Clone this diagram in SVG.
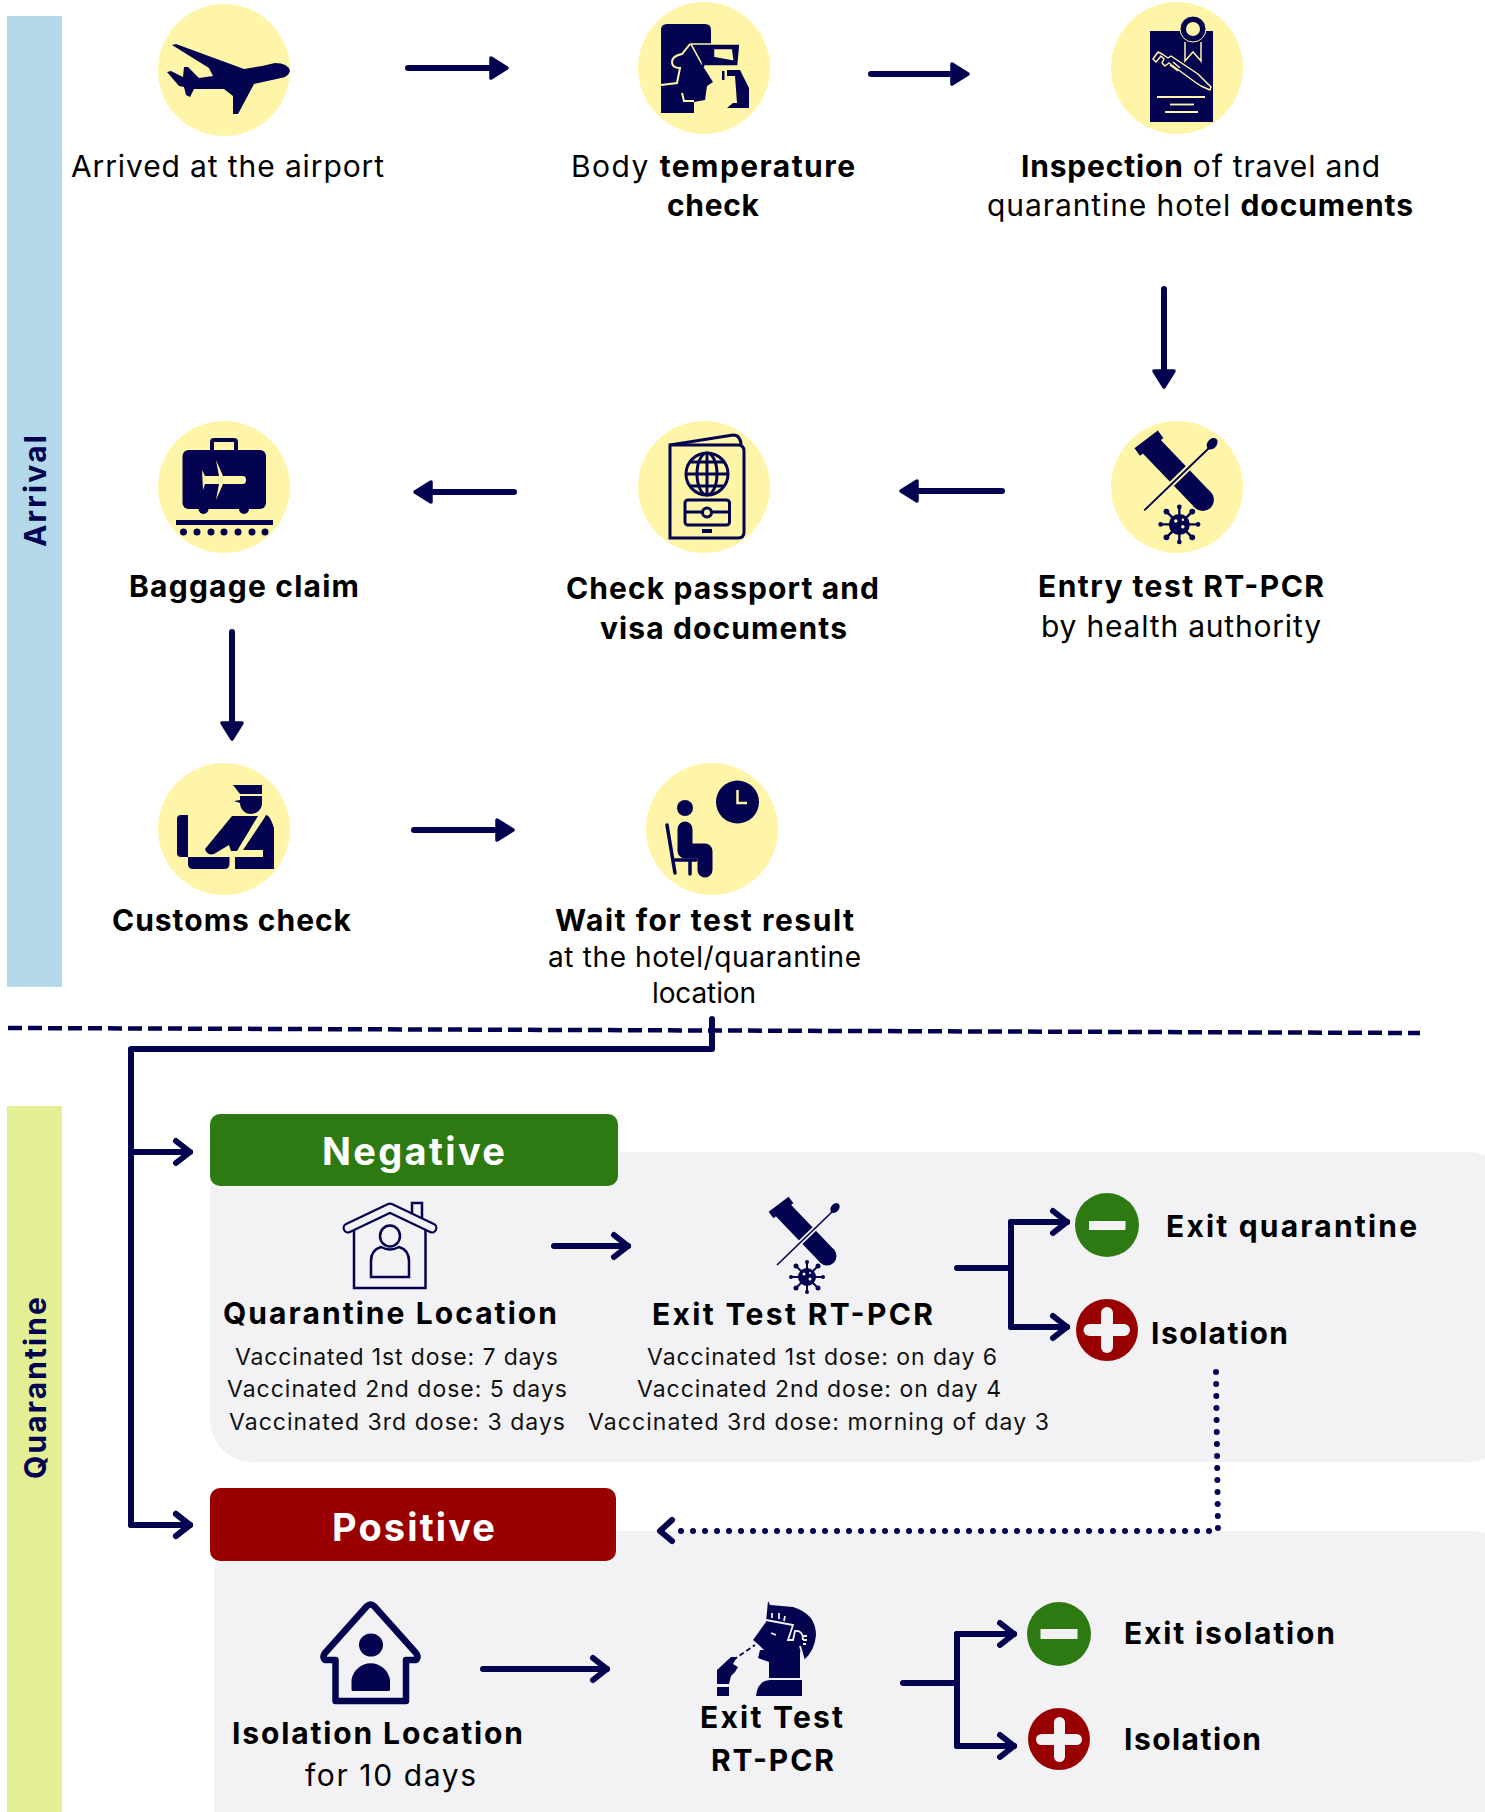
<svg xmlns="http://www.w3.org/2000/svg" xmlns:xlink="http://www.w3.org/1999/xlink" width="1485" height="1812" viewBox="0 0 1485 1812">
<style>
text{font-family:"Inter","Liberation Sans",sans-serif;fill:#000}
.t{font-size:30px}
.s{font-size:28px}
.h{font-size:30px;font-weight:700}
.v{font-size:23px;fill:#111}
.b{font-weight:700}
.lane{font-size:30px;font-weight:700;fill:#03034f;text-anchor:middle}
.hd{font-size:38px;font-weight:700;fill:#fff}
.c{fill:#fff5a8}
.n{fill:#03034f}
.ln{fill:none;stroke:#03034f;stroke-width:6;stroke-linecap:round;stroke-linejoin:round}
.panel{fill:#f2f2f5}
</style>
<defs>
<marker id="solid" markerUnits="userSpaceOnUse" viewBox="-14 -15 26 30" refX="0" refY="0" markerWidth="26" markerHeight="30" orient="auto"><path d="M-8,-10 L8,0 L-8,10 Z" fill="#03034f" stroke="#03034f" stroke-width="3.5" stroke-linejoin="round"/></marker>
<marker id="open" markerUnits="userSpaceOnUse" viewBox="-18 -15 22 30" refX="0" refY="0" markerWidth="22" markerHeight="30" orient="auto"><path d="M-14,-11 L0,0 L-14,11" fill="none" stroke="#03034f" stroke-width="6" stroke-linecap="round" stroke-linejoin="round"/></marker>
<g id="testIcon">
<path class="n" d="M775,1205 L799,1221 L822,1246 A12,12 0 0 0 838,1254 L838,1258 A11,11 0 0 1 818,1265 L787,1224 Z" style="display:none"/>
<line x1="781" y1="1208" x2="827" y2="1256" stroke="#03034f" stroke-width="19"/>
<circle cx="827" cy="1256" r="9.500" class="n"/>
<line x1="771" y1="1215" x2="791" y2="1200" stroke="#03034f" stroke-width="8"/>
<line x1="777" y1="1265" x2="833" y2="1211" stroke="currentColor" stroke-width="5"/>
<line x1="777" y1="1265" x2="833" y2="1211" stroke="#03034f" stroke-width="1.600"/>
<ellipse cx="835" cy="1208" rx="4" ry="5.500" class="n" transform="rotate(40 835 1208)"/>
<g stroke="#03034f" stroke-width="2"><line x1="791" y1="1277" x2="823" y2="1277"/><line x1="807" y1="1261" x2="807" y2="1293"/><line x1="796" y1="1266" x2="818" y2="1288"/><line x1="818" y1="1266" x2="796" y2="1288"/></g>
<circle cx="807" cy="1277" r="9" class="n"/>
<g class="n"><circle cx="791" cy="1277" r="2"/><circle cx="823" cy="1277" r="2"/><circle cx="807" cy="1262" r="2"/><circle cx="807" cy="1292" r="2"/><circle cx="796" cy="1266" r="2.500"/><circle cx="818" cy="1266" r="2.500"/><circle cx="796" cy="1288" r="2.500"/><circle cx="818" cy="1288" r="2.500"/></g>
<g fill="currentColor"><circle cx="804" cy="1274" r="1.500"/><circle cx="810" cy="1279" r="1.500"/><circle cx="810" cy="1273" r="1"/></g>
</g>
</defs>

<g id="lanes">
<rect x="7" y="16" width="55" height="971" fill="#b2d8ea"/>
<rect x="7" y="1106" width="55" height="706" fill="#e3ee95"/>
<text class="lane" transform="translate(46 491) rotate(-90)" textLength="112">Arrival</text>
<text class="lane" transform="translate(46 1388) rotate(-90)" textLength="182">Quarantine</text>
</g>

<g id="panels">
<rect class="panel" x="210" y="1152" width="1300" height="310" rx="42"/>
<rect class="panel" x="214" y="1531" width="1300" height="340" rx="42"/>
</g>

<g id="connectors">
<line class="ln" x1="408" y1="68" x2="499" y2="68" marker-end="url(#solid)"/>
<line class="ln" x1="871" y1="74" x2="960" y2="74" marker-end="url(#solid)"/>
<line class="ln" x1="1164" y1="289" x2="1164" y2="379" marker-end="url(#solid)" stroke-width="5"/>
<line class="ln" x1="1002" y1="491" x2="909" y2="491" marker-end="url(#solid)"/>
<line class="ln" x1="514" y1="492" x2="423" y2="492" marker-end="url(#solid)"/>
<line class="ln" x1="232" y1="632" x2="232" y2="731" marker-end="url(#solid)"/>
<line class="ln" x1="414" y1="830" x2="505" y2="830" marker-end="url(#solid)"/>
<line x1="8" y1="1028" x2="1420" y2="1033" stroke="#03034f" stroke-width="4.500" stroke-dasharray="14 6"/>
<path class="ln" d="M712,1019 V1049 H131 V1525 H190" marker-end="url(#open)"/>
<line class="ln" x1="131" y1="1152" x2="190" y2="1152" marker-end="url(#open)"/>
<line class="ln" x1="131" y1="1525" x2="190" y2="1525" marker-end="url(#open)"/>
<line class="ln" x1="554" y1="1246" x2="628" y2="1246" marker-end="url(#open)"/>
<path class="ln" d="M957,1268 H1011"/>
<path class="ln" d="M1067,1222 H1011 V1327 H1067"/>
<line class="ln" x1="1011" y1="1222" x2="1067" y2="1222" marker-end="url(#open)"/>
<line class="ln" x1="1011" y1="1327" x2="1067" y2="1327" marker-end="url(#open)"/>
<path d="M1216,1372 L1218,1531 L672,1531" fill="none" stroke="#03034f" stroke-width="6" stroke-linecap="round" stroke-dasharray="0 12"/>
<path class="ln" d="M672,1520 L660,1531 L672,1541"/>
<line class="ln" x1="483" y1="1669" x2="607" y2="1669" marker-end="url(#open)"/>
<path class="ln" d="M903,1683 H957"/>
<path class="ln" d="M1014,1634 H957 V1746 H1014" stroke-width="5"/>
<line class="ln" x1="957" y1="1634" x2="1014" y2="1634" marker-end="url(#open)"/>
<line class="ln" x1="957" y1="1746" x2="1014" y2="1746" marker-end="url(#open)"/>
</g>

<g id="n-arrived">
<circle class="c" cx="224" cy="70" r="66"/>
<path class="n" d="M172,45 L176,44 L244,69 L262,66 L275,63 Q288,63 290,71 Q288,77 281,78 L254,84 L238,114 L233,114 L233,96 L224,89 L194,89 L190,97 L186,95 L184,87 L179,86 L167,72 L171,71 L183,77 L184,67 L188,67 L199,78 L213,76 L209,68 Z"/>
<text class="t" x="71" y="177" textLength="313">Arrived at the airport</text>
</g>

<g id="n-temperature">
<circle class="c" cx="704" cy="68" r="66"/>
<path class="n" d="M661,30 Q661,24 667,24 H705 Q711,24 711,30 V44 H690 L704,68 L713,82 L707,86 L705,100 L694,102 V113 H661 Z"/>
<path d="M690,44 L682,54 Q672,56 672,62 Q672,68 680,68 L677,83 L661,85 M682,93 L684,101 L694,101" fill="none" stroke="#fff5a8" stroke-width="2"/>
<path d="M691,44 H740 L738,66 L703,66 Z" class="n" stroke="#fff5a8" stroke-width="1.500"/>
<path d="M703,46 V67 M713,48 H733 L735,62 L713,58 Z" fill="#fff5a8" stroke="#03034f" stroke-width="2.500"/>
<path class="n" d="M727,70 H740 L749,88 V108 H727 L733,103 L737,103 L735,76 H727 Z"/>
<rect class="n" x="722" y="71" width="2.500" height="9"/>
<text class="t" x="571" y="177" textLength="284">Body <tspan class="b">temperature</tspan></text>
<text class="t b" x="667" y="216" textLength="92">check</text>
</g>

<g id="n-inspection">
<circle class="c" cx="1177" cy="68" r="66"/>
<rect class="n" x="1150" y="31" width="63" height="91"/>
<path d="M1185,42 V61 L1193,52 L1201,61 V42" fill="#03034f" stroke="#fff5a8" stroke-width="1.500"/>
<circle cx="1193" cy="29" r="13" fill="#03034f" stroke="#fff5a8" stroke-width="1"/>
<circle cx="1193" cy="29" r="7" fill="#fff5a8"/>
<g fill="none" stroke="#fff5a8" stroke-width="1.500" stroke-linejoin="round">
<path d="M1158,52 L1153,59 L1156,62 L1161,56 L1164,59 L1162,63 L1165,66 L1169,63 L1195,82 L1201,86 L1210,90 L1211,87 L1204,80 L1198,74 L1171,56 L1168,58 L1162,54 Z"/>
<path d="M1170,65 L1178,71 M1173,62 L1180,68"/>
</g>
<g stroke="#fff5a8" stroke-width="1.800"><line x1="1157" y1="97" x2="1205" y2="97"/><line x1="1170" y1="104.500" x2="1194" y2="104.500"/><line x1="1165" y1="112" x2="1198" y2="112"/></g>
<text class="t" x="1021" y="177" textLength="359"><tspan class="b">Inspection</tspan> of travel and</text>
<text class="t" x="987" y="216" textLength="426">quarantine hotel <tspan class="b">documents</tspan></text>
</g>

<g id="n-entry">
<circle class="c" cx="1177" cy="487" r="66"/>
<use href="#testIcon" xlink:href="#testIcon" color="#fff5a8" transform="translate(1177 487) scale(1.170) translate(-805 -1245)"/>
<text class="t b" x="1038" y="597" textLength="286">Entry test RT-PCR</text>
<text class="t" x="1041" y="637" textLength="280">by health authority</text>
</g>

<g id="n-passport">
<circle class="c" cx="704" cy="487" r="66"/>
<g fill="none" stroke="#03034f" stroke-width="3">
<path d="M670,445 H738 Q744,445 744,451 V532 Q744,538 738,538 H670 Z"/>
<path d="M670,445 L733,435 Q741,435 741,446"/>
<circle cx="707" cy="474" r="21"/>
<ellipse cx="707" cy="474" rx="10" ry="21"/>
<path d="M707,453 V495 M686,474 H728 M690,462 H724 M690,486 H724"/>
<rect x="685" y="500" width="44.500" height="25" rx="3"/>
<path d="M685,512 H702 M712,512 H729"/>
<circle cx="707" cy="512.500" r="4.500"/>
</g>
<rect class="n" x="702" y="529" width="10" height="4"/>
<text class="t b" x="566" y="599" textLength="313">Check passport and</text>
<text class="t b" x="600" y="639" textLength="247">visa documents</text>
</g>

<g id="n-baggage">
<circle class="c" cx="224" cy="487" r="66"/>
<rect class="n" x="182.500" y="450" width="83.500" height="59" rx="6"/>
<path d="M212,450 V442 Q212,440 214,440 H234 Q236,440 236,442 V450" fill="none" stroke="#03034f" stroke-width="4"/>
<circle class="n" cx="203.500" cy="509" r="5"/><circle class="n" cx="244" cy="509" r="5"/>
<rect class="n" x="176" y="520" width="97" height="5"/>
<g class="n"><circle cx="183.500" cy="532" r="3.500"/><circle cx="197" cy="532" r="3.500"/><circle cx="211" cy="532" r="3.500"/><circle cx="224" cy="532" r="3.500"/><circle cx="238" cy="532" r="3.500"/><circle cx="252" cy="532" r="3.500"/><circle cx="265" cy="532" r="3.500"/></g>
<path fill="#fff5a8" d="M216,460 L223,476 L243,476 Q246,476 246,480 Q246,484 243,484 L223,484 L216,500 L219,484 L205,484 L203,490 L202,470 L205,476 L219,476 Z"/>
<text class="t b" x="129" y="597" textLength="230">Baggage claim</text>
</g>

<g id="n-customs">
<circle class="c" cx="224" cy="829" r="66"/>
<path class="n" d="M233,785 H262 V794 H240 Z"/>
<path class="n" d="M240,796 H262 V803 A11,11 0 0 1 240,803 L234,801 L240,800 Z"/>
<path class="n" d="M177,819 Q177,815 181,815 H188 V857 H181 Q177,857 177,853 Z"/>
<path class="n" d="M188,857 H229.500 V864 Q229.500,869 224,869 H193 Q188,869 188,864 Z"/>
<path class="n" d="M232,816 H258 L237,851 L231,851 L229,845 L214,854 Q207,856 205,849 Z"/>
<path class="n" d="M266,815 Q270,815 274,828 V869 H235 V857 H263 V850 H243 L263,820 Z"/>
<text class="t b" x="112" y="931" textLength="239">Customs check</text>
</g>

<g id="n-wait">
<circle class="c" cx="712" cy="829" r="66"/>
<circle class="n" cx="737.500" cy="802" r="21.500"/>
<path d="M737.500,790 V803 H747" fill="none" stroke="#fff5a8" stroke-width="2.500"/>
<circle class="n" cx="685" cy="808" r="8"/>
<path d="M685,829 V851 H705 V870" fill="none" stroke="#03034f" stroke-width="15" stroke-linecap="round" stroke-linejoin="round"/>
<path d="M667,825 L675,873 M675,860 H696 M690,860 V874" fill="none" stroke="#03034f" stroke-width="3.500" stroke-linecap="round"/>
<text class="t b" x="555" y="931" textLength="299">Wait for test result</text>
<text class="s" x="548" y="967" textLength="313">at the hotel/quarantine</text>
<text class="s" x="652" y="1003" textLength="104">location</text>
</g>

<g id="n-negative">
<rect x="210" y="1114" width="408" height="72" rx="10" fill="#2e7a12"/>
<text class="hd" x="322" y="1165" textLength="183">Negative</text>
</g>

<g id="n-quarantine-location">
<path d="M354,1226 V1288 H425.500 V1226" fill="none" stroke="#03034f" stroke-width="2.500"/>
<rect x="412" y="1203" width="10" height="16" fill="none" stroke="#03034f" stroke-width="2.500"/>
<path d="M348,1228 L390,1208 L432,1228" fill="none" stroke="#03034f" stroke-width="11" stroke-linecap="round" stroke-linejoin="round"/>
<path d="M348,1228 L390,1208 L432,1228" fill="none" stroke="#f2f2f5" stroke-width="6.500" stroke-linecap="round" stroke-linejoin="round"/>
<ellipse cx="390" cy="1236" rx="10" ry="10.500" fill="none" stroke="#03034f" stroke-width="2.500"/>
<path d="M371,1277 V1261 Q371,1250 381,1247 Q390,1252 399,1247 Q409,1250 409,1261 V1277 Z" fill="none" stroke="#03034f" stroke-width="2.500"/>
<text class="h" x="223" y="1324" textLength="334">Quarantine Location</text>
<text class="v" x="235" y="1365" textLength="323">Vaccinated 1st dose: 7 days</text>
<text class="v" x="227" y="1397" textLength="340">Vaccinated 2nd dose: 5 days</text>
<text class="v" x="229" y="1430" textLength="336">Vaccinated 3rd dose: 3 days</text>
</g>

<g id="n-exit-test">
<use href="#testIcon" xlink:href="#testIcon" color="#f2f2f5"/>
<text class="h" x="652" y="1325" textLength="281">Exit Test RT-PCR</text>
<text class="v" x="647" y="1365" textLength="350">Vaccinated 1st dose: on day 6</text>
<text class="v" x="637" y="1397" textLength="364">Vaccinated 2nd dose: on day 4</text>
<text class="v" x="588" y="1430" textLength="461">Vaccinated 3rd dose: morning of day 3</text>
</g>

<g id="n-exit-quarantine">
<circle cx="1107" cy="1225" r="32" fill="#2e7a12"/>
<rect x="1089" y="1221" width="36.500" height="9" fill="#f2f2f5"/>
<text class="h" x="1166" y="1237" textLength="251">Exit quarantine</text>
</g>

<g id="n-isolation">
<circle cx="1107" cy="1330" r="31" fill="#990000"/>
<rect x="1083.500" y="1324" width="46.500" height="12" rx="6" fill="#f2f2f5"/>
<rect x="1101" y="1307" width="12" height="46" rx="6" fill="#f2f2f5"/>
<text class="h" x="1151" y="1344" textLength="137">Isolation</text>
</g>

<g id="n-positive">
<rect x="210" y="1488" width="406" height="73" rx="10" fill="#990000"/>
<text class="hd" x="332" y="1541" textLength="163">Positive</text>
</g>

<g id="n-isolation-location">
<path d="M335.500,1660 V1701 H406 V1660 H416 Q419,1657 416,1653 L374,1606 Q371,1603 367,1606 L325,1653 Q322,1657 325,1660 Z" fill="none" stroke="#03034f" stroke-width="6.500" stroke-linejoin="round"/>
<ellipse cx="371" cy="1645" rx="12" ry="11.500" class="n"/>
<path class="n" d="M351.500,1690 V1680 A19.500,20 0 0 1 390,1680 V1690 Q390,1691 388,1691 H353 Q351.500,1691 351.500,1690 Z"/>
<text class="h" x="232" y="1744" textLength="291">Isolation Location</text>
<text class="t" x="305" y="1786" textLength="171">for 10 days</text>
</g>

<g id="n-exit-test-2">
<path class="n" d="M768,1601 L770,1605 L793,1607 Q816,1614 816,1635 Q815,1650 804,1660 L800,1650 L800,1678 L769,1678 L769,1662 L758,1658 L760,1650 L764,1650 L759,1645 L753,1640 L766,1622 Z"/>
<path class="n" d="M756,1696 Q758,1680 770,1680 H802 V1696 Z"/>
<path d="M766,1620 L793,1625 L788,1640 L793,1640 L795,1631 Q803,1630 803,1640 M800,1646 L804,1660 M772,1613 V1618 M779,1613 V1619 M785,1616 L784,1621 M771,1633 L776,1635 M803,1636 H807 M803,1640 H807 M803,1644 H806" fill="none" stroke="#f2f2f5" stroke-width="1.800"/>
<path class="n" d="M717,1670 L731,1657 L737,1657 L733,1664 L738,1667 L735,1672 L731,1676 L729,1684 H717 Z"/>
<rect class="n" x="717" y="1687" width="12" height="9"/>
<path d="M733,1660 L755,1645" stroke="#03034f" stroke-width="1.800" stroke-dasharray="5 3"/>
<text class="h" x="700" y="1728" textLength="143">Exit Test</text>
<text class="h" x="711" y="1771" textLength="123">RT-PCR</text>
</g>

<g id="n-exit-isolation">
<circle cx="1059" cy="1634" r="32" fill="#2e7a12"/>
<rect x="1040.500" y="1629" width="37" height="10" fill="#f2f2f5"/>
<text class="h" x="1124" y="1644" textLength="211">Exit isolation</text>
</g>

<g id="n-isolation-2">
<circle cx="1059" cy="1739" r="31" fill="#990000"/>
<rect x="1036" y="1734" width="46" height="11" rx="5.500" fill="#f2f2f5"/>
<rect x="1054" y="1717" width="11" height="45" rx="5.500" fill="#f2f2f5"/>
<text class="h" x="1124" y="1750" textLength="137">Isolation</text>
</g>
</svg>
